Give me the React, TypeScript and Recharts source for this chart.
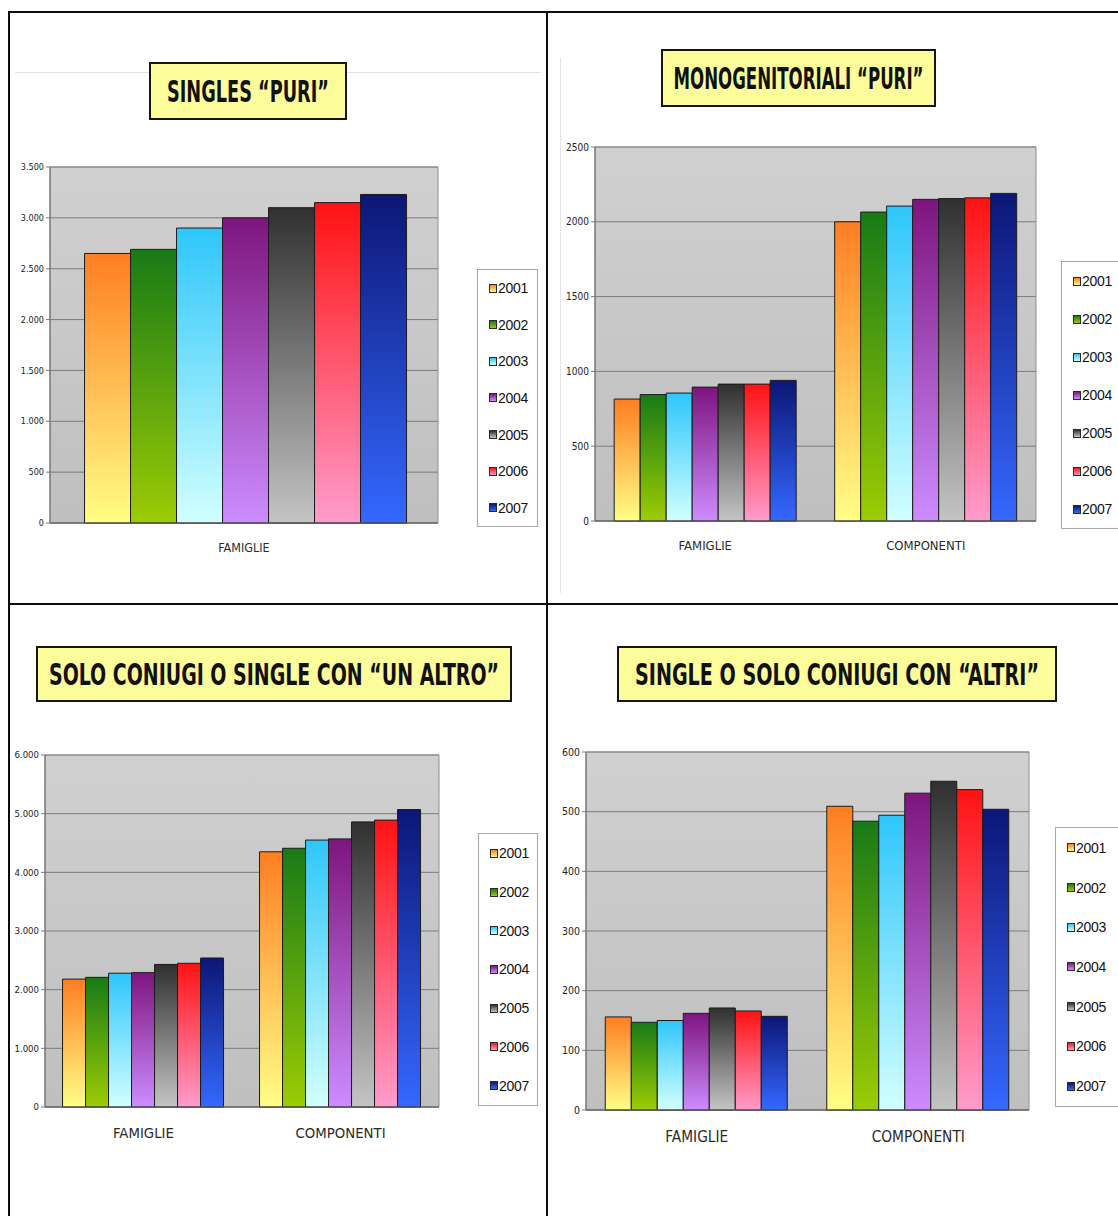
import React from 'react';
import { BarChart, Bar, XAxis, YAxis, CartesianGrid, Legend, ReferenceArea } from 'recharts';

// ---- data -------------------------------------------------------------
const years = ['2001', '2002', '2003', '2004', '2005', '2006', '2007'];
const categoriesOne = ['FAMIGLIE'];
const categoriesTwo = ['FAMIGLIE', 'COMPONENTI'];

const singlesFamiglie = [2650, 2690, 2900, 3000, 3100, 3150, 3230];

const monoFamiglie = [815, 845, 855, 895, 915, 915, 940];
const monoComponenti = [2000, 2065, 2105, 2150, 2155, 2160, 2190];

const unAltroFamiglie = [2180, 2210, 2280, 2290, 2430, 2450, 2540];
const unAltroComponenti = [4350, 4410, 4550, 4570, 4860, 4890, 5070];

const altriFamiglie = [156, 147, 150, 162, 171, 166, 157];
const altriComponenti = [509, 484, 494, 531, 551, 537, 504];

const singlesTicks = [0, 500, 1000, 1500, 2000, 2500, 3000, 3500];
const monoTicks = [0, 500, 1000, 1500, 2000, 2500];
const unAltroTicks = [0, 1000, 2000, 3000, 4000, 5000, 6000];
const altriTicks = [0, 100, 200, 300, 400, 500, 600];

// top / bottom colour of each year's vertical gradient
const yearColors: [string, string][] = [
  ['#ff7e22', '#ffff86'],
  ['#187a16', '#9ccc04'],
  ['#2ec6fb', '#d2ffff'],
  ['#7e157e', '#cc8cff'],
  ['#303030', '#c4c4c4'],
  ['#ff1212', '#ff9ccc'],
  ['#0c1676', '#3468ff'],
];

type Row = { category: string; [k: string]: number | string };

function buildRows(categories: string[], series: number[][]): Row[] {
  return categories.map((c, ci) => {
    const row: Row = { category: c };
    years.forEach((y, yi) => {
      row['y' + y] = series[ci][yi];
    });
    return row;
  });
}

const singlesRows = buildRows(categoriesOne, [singlesFamiglie]);
const monoRows = buildRows(categoriesTwo, [monoFamiglie, monoComponenti]);
const unAltroRows = buildRows(categoriesTwo, [unAltroFamiglie, unAltroComponenti]);
const altriRows = buildRows(categoriesTwo, [altriFamiglie, altriComponenti]);

const dotted = (v: number) => String(v).replace(/\B(?=(\d{3})+(?!\d))/g, '.');
const plain = (v: number) => String(v);

const NARROW = "'Liberation Sans Narrow', 'DejaVu Sans Condensed', 'Liberation Sans', Arial, sans-serif";
const SANS = "'Liberation Sans', Arial, sans-serif";
const TITLE_FONT = "'DejaVu Sans Condensed', 'DejaVu Sans', sans-serif";

// ---- pieces -----------------------------------------------------------
type Box = { left: number; top: number; width: number; height: number };

// Tall, narrow heading: the glyphs are set at a size whose natural width fits
// the box and then stretched vertically to the wanted cap height.
function TitleBox({ text, box, textWidth, fontSize }: { text: string; box: Box; textWidth: number; fontSize: number }) {
  const w = box.width - 4;
  const h = box.height - 4;
  const capHeight = 22.5;
  const stretch = capHeight / (0.729 * fontSize);
  return (
    <div
      style={{
        position: 'absolute',
        left: box.left,
        top: box.top,
        width: box.width,
        height: box.height,
        boxSizing: 'border-box',
        background: '#fdfd9b',
        border: '2px solid #151515',
      }}
    >
      <svg width={w} height={h} style={{ display: 'block' }}>
        <text
          transform={`translate(${w / 2}, ${h / 2 + capHeight / 2}) scale(1, ${stretch})`}
          x={0}
          y={0}
          textAnchor="middle"
          fontFamily={TITLE_FONT}
          fontWeight="bold"
          fontSize={fontSize}
          fill="#111"
          textLength={textWidth}
          lengthAdjust="spacingAndGlyphs"
        >
          {text}
        </text>
      </svg>
    </div>
  );
}

function LegendList({ payload, open }: { payload?: any[]; open?: boolean }) {
  const items = payload && payload.length ? payload.map((p) => String(p.value)) : years;
  return (
    <div
      style={{
        boxSizing: 'border-box',
        width: '100%',
        height: '100%',
        background: '#ffffff',
        border: '1px solid #a8a8a8',
        borderRight: open ? 'none' : '1px solid #a8a8a8',
        display: 'flex',
        flexDirection: 'column',
        justifyContent: 'space-around',
        paddingLeft: 11,
      }}
    >
      {items.map((label, i) => (
        <div key={label} style={{ display: 'flex', alignItems: 'center', height: 16 }}>
          <span
            style={{
              display: 'inline-block',
              boxSizing: 'border-box',
              width: 8,
              height: 9,
              border: '1px solid #2a2a2a',
              background: `linear-gradient(${yearColors[i][0]}, ${yearColors[i][1]})`,
            }}
          />
          <span style={{ fontFamily: SANS, fontSize: 14, color: '#111', marginLeft: 1, letterSpacing: -0.3 }}>
            {label}
          </span>
        </div>
      ))}
    </div>
  );
}

type PanelProps = {
  id: string;
  box: Box;
  margin: { top: number; right: number; bottom: number; left: number };
  yWidth: number;
  rows: Row[];
  ticks: number[];
  format: (v: number) => string;
  gap: string;
  yFont: number;
  xFont: number;
  xDy: number;
  legend: Box & { open?: boolean };
};

function Panel(p: PanelProps) {
  const top = p.ticks[p.ticks.length - 1];
  const XTick = (props: any) => (
    <text
      x={props.x}
      y={props.y + p.xDy}
      textAnchor="middle"
      fontFamily={NARROW}
      fontSize={p.xFont}
      fill="#2a2a2a"
    >
      {props.payload.value}
    </text>
  );
  return (
    <div style={{ position: 'absolute', left: p.box.left, top: p.box.top }}>
      <BarChart
        width={p.box.width}
        height={p.box.height}
        data={p.rows}
        margin={p.margin}
        barGap={0}
        barCategoryGap={p.gap}
      >
        <defs>
          <linearGradient id={`${p.id}-plot`} x1="0" y1="0" x2="0" y2="1">
            <stop offset="0%" stopColor="#d0d0d0" />
            <stop offset="100%" stopColor="#bfbfbf" />
          </linearGradient>
          {yearColors.map((c, i) => (
            <linearGradient key={i} id={`${p.id}-g${i}`} x1="0" y1="0" x2="0" y2="1">
              <stop offset="0%" stopColor={c[0]} />
              <stop offset="100%" stopColor={c[1]} />
            </linearGradient>
          ))}
        </defs>
        <CartesianGrid vertical={false} stroke="#7c7c7c" fill={`url(#${p.id}-plot)`} fillOpacity={1} />
        <ReferenceArea y1={0} y2={top} fill="none" stroke="#8e8e8e" ifOverflow="visible" />
        <XAxis
          dataKey="category"
          height={30}
          tickSize={0}
          tickMargin={0}
          tickLine={false}
          axisLine={{ stroke: '#5a5a5a' }}
          tick={XTick}
          interval={0}
        />
        <YAxis
          width={p.yWidth}
          domain={[0, top]}
          ticks={p.ticks}
          interval={0}
          tickFormatter={p.format}
          tickSize={4}
          tickMargin={2}
          tickLine={{ stroke: '#7a7a7a' }}
          axisLine={{ stroke: '#6a6a6a' }}
          tick={{ fontFamily: NARROW, fontSize: p.yFont, fill: '#222' }}
        />
        <Legend
          layout="horizontal"
          align="center"
          verticalAlign="middle"
          wrapperStyle={{ left: p.legend.left, top: p.legend.top, width: p.legend.width, height: p.legend.height }}
          content={(lp: any) => <LegendList payload={lp.payload} open={p.legend.open} />}
        />
        {years.map((y, i) => (
          <Bar
            key={y}
            dataKey={'y' + y}
            name={y}
            fill={`url(#${p.id}-g${i})`}
            stroke="#1c1c1c"
            strokeWidth={1}
            isAnimationActive={false}
          />
        ))}
      </BarChart>
    </div>
  );
}

// ---- page -------------------------------------------------------------
const line = (left: number, top: number, width: number, height: number, color = '#0c0c0c') => (
  <div style={{ position: 'absolute', left, top, width, height, background: color }} />
);

export default function App() {
  return (
    <div
      style={{
        position: 'absolute',
        left: 0,
        top: 0,
        width: 1118,
        height: 1216,
        overflow: 'hidden',
        background: '#ffffff',
      }}
    >
      {line(15, 72, 525, 1, '#e2e2e2')}
      {line(560, 58, 1, 535, '#e4e4e4')}

      <TitleBox text="SINGLES “PURI”" box={{ left: 149, top: 62, width: 198, height: 58 }} textWidth={162} fontSize={20} />
      <TitleBox text="MONOGENITORIALI “PURI”" box={{ left: 661, top: 49, width: 275, height: 58 }} textWidth={250} fontSize={17.5} />
      <TitleBox text="SOLO CONIUGI O SINGLE CON “UN ALTRO”" box={{ left: 36, top: 646, width: 476, height: 56 }} textWidth={450} fontSize={20.8} />
      <TitleBox text="SINGLE O SOLO CONIUGI CON “ALTRI”" box={{ left: 617, top: 646, width: 440, height: 56 }} textWidth={404} fontSize={20.9} />

      <Panel
        id="sp"
        box={{ left: 10, top: 140, width: 535, height: 450 }}
        margin={{ top: 27, right: 107, bottom: 37, left: 4 }}
        yWidth={36}
        rows={singlesRows}
        ticks={singlesTicks}
        format={dotted}
        gap="8.9%"
        yFont={9}
        xFont={12.5}
        xDy={29}
        legend={{ left: 467, top: 129, width: 61, height: 258 }}
      />
      <Panel
        id="mp"
        box={{ left: 550, top: 120, width: 568, height: 450 }}
        margin={{ top: 27, right: 82, bottom: 19, left: 9 }}
        yWidth={36}
        rows={monoRows}
        ticks={monoTicks}
        format={plain}
        gap="8.7%"
        yFont={10}
        xFont={13}
        xDy={29}
        legend={{ left: 511, top: 141, width: 57, height: 268, open: true }}
      />
      <Panel
        id="ua"
        box={{ left: 10, top: 730, width: 535, height: 440 }}
        margin={{ top: 25, right: 106, bottom: 33, left: 1 }}
        yWidth={34}
        rows={unAltroRows}
        ticks={unAltroTicks}
        format={dotted}
        gap="8.9%"
        yFont={9.5}
        xFont={14.8}
        xDy={31}
        legend={{ left: 468, top: 103, width: 60, height: 273 }}
      />
      <Panel
        id="sa"
        box={{ left: 550, top: 730, width: 568, height: 440 }}
        margin={{ top: 22, right: 89, bottom: 30, left: 0 }}
        yWidth={36}
        rows={altriRows}
        ticks={altriTicks}
        format={plain}
        gap="8.7%"
        yFont={10.5}
        xFont={15.3}
        xDy={32}
        legend={{ left: 505, top: 97, width: 63, height: 280, open: true }}
      />

      {line(8, 11, 1110, 2)}
      {line(8, 11, 2, 1205)}
      {line(546, 11, 2, 1205)}
      {line(8, 603, 1110, 2)}
    </div>
  );
}
